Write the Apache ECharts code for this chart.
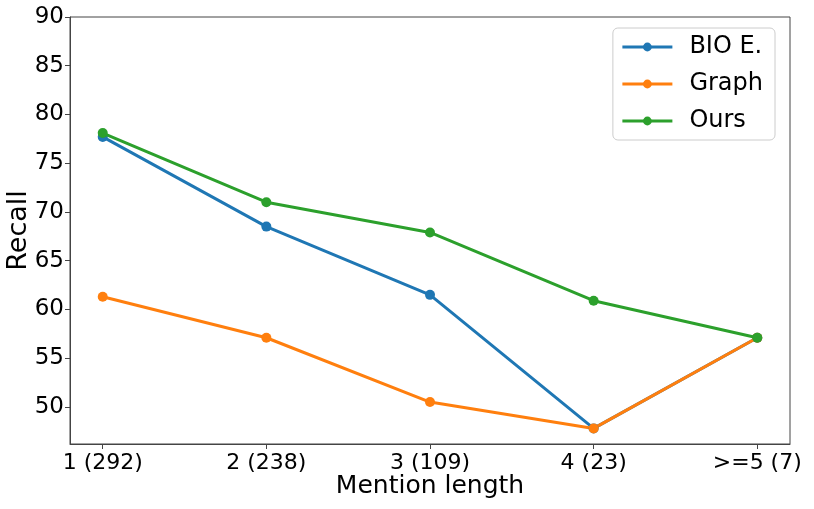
<!DOCTYPE html>
<html><head><meta charset="utf-8">
<script src="https://cdn.jsdelivr.net/npm/echarts@6/dist/echarts.min.js"></script>
<style>html,body{margin:0;padding:0;background:#fff}#c{width:814px;height:509px}</style>
</head><body><div id="c"></div>
<script>
const categories = ['1 (292)', '2 (238)', '3 (109)', '4 (23)', '>=5 (7)'];
const bioE = [77.7, 68.5, 61.5, 47.8, 57.1];
const graph = [61.3, 57.1, 50.5, 47.8, 57.1];
const ours = [78.1, 71.0, 67.9, 60.9, 57.1];
const yTicks = [50, 55, 60, 65, 70, 75, 80, 85, 90];
const xTicks = [0, 1, 2, 3, 4];

const font = 'DejaVu Sans';
const toPts = arr => arr.map((v, i) => [i, v]);
const mk = (name, data, color) => ({
  name, type: 'line', data: toPts(data), symbol: 'circle', symbolSize: 10,
  lineStyle: { width: 3, color }, itemStyle: { color }, color, z: name === 'Ours' ? 3 : 2
});
const chart = echarts.init(document.getElementById('c'));
chart.setOption({
  animation: false,
  grid: { left: 70, right: 24, top: 17, bottom: 65, outerBoundsMode: 'none', containLabel: false,
    show: true, borderColor: '#444', borderWidth: 1 },
  legend: {
    orient: 'vertical', right: 39, top: 28, itemWidth: 50, itemHeight: 11, itemGap: 13,
    borderColor: '#ccc', borderWidth: 1, borderRadius: 5, padding: [7, 12, 7, 8],
    lineStyle: { width: 3 },
    textStyle: { fontFamily: font, fontSize: 24, color: '#000', padding: [0, 0, 0, 12] },
    data: ['BIO E.', 'Graph', 'Ours']
  },
  xAxis: {
    type: 'value', min: -0.2, max: 4.2,
    name: 'Mention length', nameLocation: 'middle', nameGap: 30, nameMoveOverlap: false,
    nameTextStyle: { fontFamily: font, fontSize: 25, color: '#000' },
    axisLine: { show: true, onZero: false, lineStyle: { color: '#444' } },
    axisTick: { show: true, length: 5, lineStyle: { color: '#444' }, customValues: xTicks },
    axisLabel: { fontFamily: font, fontSize: 22, color: '#000', margin: 8, customValues: xTicks,
      formatter: v => categories[Math.round(v)] },
    splitLine: { show: false }
  },
  yAxis: {
    type: 'value', min: 46.2, max: 90,
    name: 'Recall', nameLocation: 'middle', nameGap: 38, nameMoveOverlap: false,
    nameTextStyle: { fontFamily: font, fontSize: 27, color: '#000' },
    axisLine: { show: true, onZero: false, lineStyle: { color: '#444' } },
    axisTick: { show: true, length: 5, lineStyle: { color: '#444' }, customValues: yTicks },
    axisLabel: { fontFamily: font, fontSize: 23, color: '#000', margin: 6, customValues: yTicks },
    splitLine: { show: false }
  },
  series: [mk('BIO E.', bioE, '#1f77b4'), mk('Graph', graph, '#ff7f0e'), mk('Ours', ours, '#2ca02c')]
});
</script></body></html>
